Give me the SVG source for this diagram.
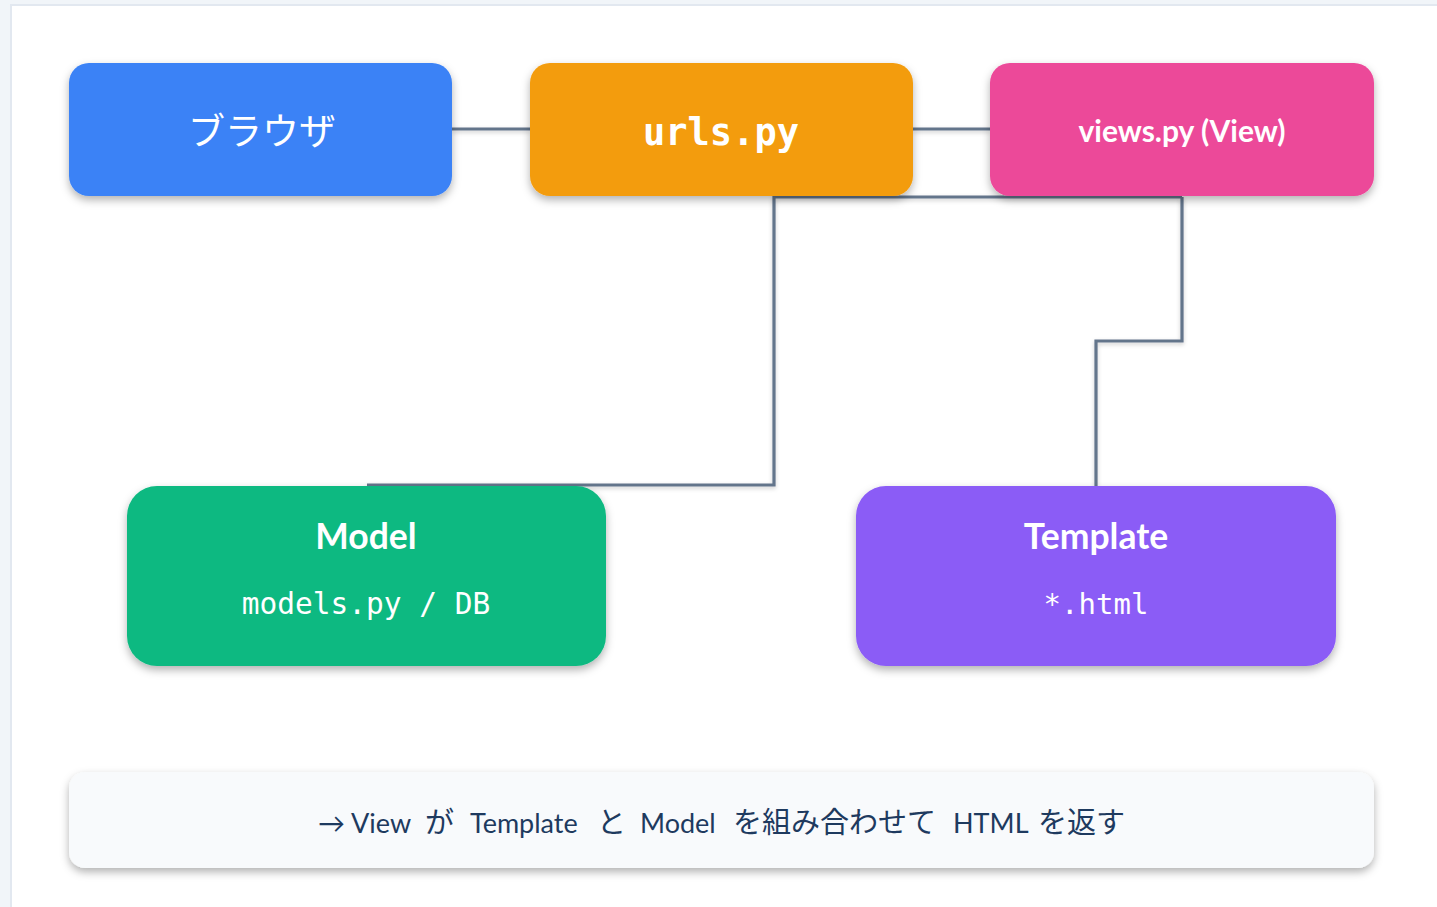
<svg xmlns="http://www.w3.org/2000/svg" width="1437" height="907" viewBox="0 0 1437 907">
<defs>
<filter id="sh" x="-10%" y="-10%" width="120%" height="130%">
<feDropShadow dx="0" dy="4" stdDeviation="4" flood-color="#000" flood-opacity="0.3"/>
</filter>
<filter id="lsh" filterUnits="userSpaceOnUse" x="0" y="0" width="1437" height="907">
<feDropShadow dx="0" dy="2" stdDeviation="2" flood-color="#000" flood-opacity="0.2"/>
</filter>
<style>
.box{filter:url(#sh)}
.t{fill:#fff;text-anchor:middle}
.lato{font-family:Lato,"Noto Sans CJK JP",sans-serif;font-weight:700}
.mono{font-family:"DejaVu Sans Mono","Liberation Mono",monospace}
.jp{font-family:"Noto Sans CJK JP",sans-serif}
.conn{fill:none;stroke:#64748b;stroke-width:3.2;filter:url(#lsh)}
.cj{font-size:29px}
</style>
</defs>
<rect x="0" y="0" width="1437" height="907" fill="#f1f5f9"/>
<rect x="11" y="5" width="1440" height="920" fill="#ffffff" stroke="#e2e8f0" stroke-width="2"/>
<g id="connectors">
<path class="conn" d="M452 129 H530"/>
<path class="conn" d="M913 129 H990"/>
<path class="conn" d="M1182 197 H774 V485 H367"/>
<path class="conn" d="M1182 197 V341 H1096 V486"/>
</g>
<g id="browser">
<rect class="box" x="69" y="63" width="383" height="133" rx="20" fill="#3b82f6"/>
<text class="t jp" x="262" y="145" font-size="37">ブラウザ</text>
</g>
<g id="urls">
<rect class="box" x="530" y="63" width="383" height="133" rx="20" fill="#f39c0e"/>
<text class="t mono" x="721" y="145" font-size="37" font-weight="700">urls.py</text>
</g>
<g id="views">
<rect class="box" x="990" y="63" width="384" height="133" rx="20" fill="#ec4899"/>
<text class="t lato" x="1182" y="142" font-size="30">views.py (View)</text>
</g>
<g id="model">
<rect class="box" x="127" y="486" width="479" height="180" rx="30" fill="#10b981"/>
<text class="t lato" x="366" y="549" font-size="35.5">Model</text>
<text class="t mono" x="366" y="614" font-size="29.5">models.py / DB</text>
</g>
<g id="template">
<rect class="box" x="856" y="486" width="480" height="180" rx="30" fill="#8b5cf6"/>
<text class="t lato" x="1096" y="549" font-size="35.5">Template</text>
<text class="t mono" x="1096" y="614" font-size="29">*.html</text>
</g>
<g id="footer">
<rect class="box" x="69" y="772" width="1305" height="96" rx="16" fill="#f8fafc"/>
<text y="833" font-size="27" fill="#1e3a5f" font-family="Lato,'Noto Sans CJK JP',sans-serif"><tspan x="318">→</tspan><tspan x="351">View</tspan><tspan class="cj" x="425">が</tspan><tspan x="470">Template</tspan><tspan class="cj" x="597">と</tspan><tspan x="640">Model</tspan><tspan class="cj" x="733">を組み合わせて</tspan><tspan x="953">HTML</tspan><tspan class="cj" x="1038">を返す</tspan></text>
</g>
</svg>
